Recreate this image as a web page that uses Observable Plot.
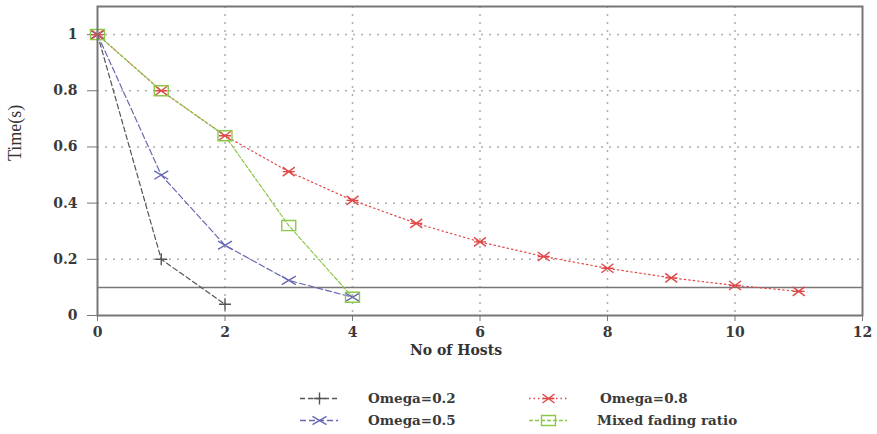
<!DOCTYPE html>
<html>
<head>
<meta charset="utf-8">
<script src="https://cdn.jsdelivr.net/npm/d3@7"></script>
<script src="https://cdn.jsdelivr.net/npm/@observablehq/plot@0.6"></script>
<style>
  body { margin: 0; background: #fff; }
  #wrap { position: relative; width: 877px; height: 434px; font-family: "DejaVu Serif", serif; }
  .sw { position: absolute; }
  .lt { position: absolute; font-weight: bold; font-size: 13.5px; color: #3a3a3a; line-height: 20px; white-space: nowrap; }
</style>
</head>
<body>
<div id="wrap"></div>
<script>
// ---- data ----
const hosts02 = [0, 1, 2];
const omega02 = [1, 0.2, 0.04];
const hosts05 = [0, 1, 2, 3, 4];
const omega05 = [1, 0.5, 0.25, 0.125, 0.065];
const hosts08 = [0, 1, 2, 3, 4, 5, 6, 7, 8, 9, 10, 11];
const omega08 = [1, 0.8, 0.64, 0.512, 0.41, 0.328, 0.262, 0.21, 0.168, 0.134, 0.107, 0.086];
const hostsMixed = [0, 1, 2, 3, 4];
const mixed = [1, 0.8, 0.64, 0.32, 0.065];
const threshold = [0.1];
const xTicks = [0, 2, 4, 6, 8, 10, 12];
const yTicks = [0, 0.2, 0.4, 0.6, 0.8, 1];
const seriesNames = ["Omega=0.2", "Omega=0.5", "Omega=0.8", "Mixed fading ratio"];

// ---- symbols ----
const plusSym = {draw(c, s) { const r = Math.sqrt(s / Math.PI); c.moveTo(-r, 0); c.lineTo(r, 0); c.moveTo(0, -r); c.lineTo(0, r); }};
const timesSym = {draw(c, s) { const r = Math.sqrt(s / Math.PI), h = r * 0.6; c.moveTo(-r, -h); c.lineTo(r, h); c.moveTo(-r, h); c.lineTo(r, -h); }};
const asterSym = {draw(c, s) { const r = Math.sqrt(s / Math.PI), h = r * 0.75; c.moveTo(-r, -h); c.lineTo(r, h); c.moveTo(-r, h); c.lineTo(r, -h); c.moveTo(-r, 0); c.lineTo(r, 0); }};
const rectSym = {draw(c, s) { const r = Math.sqrt(s / Math.PI), h = r * 0.72; c.moveTo(-r, -h); c.lineTo(r, -h); c.lineTo(r, h); c.lineTo(-r, h); c.closePath(); }};

const series = [
  {name: seriesNames[0], x: hosts02, y: omega02, color: "#555555", dash: "5,3", sym: plusSym, r: 6},
  {name: seriesNames[1], x: hosts05, y: omega05, color: "#6868b4", dash: "6,3", sym: timesSym, r: 7},
  {name: seriesNames[2], x: hosts08, y: omega08, color: "#e04848", dash: "1.5,3", sym: asterSym, r: 6},
  {name: seriesNames[3], x: hostsMixed, y: mixed, color: "#8cc84a", dash: "4,2", sym: rectSym, r: 7}
];

const marks = [
  Plot.gridY(yTicks.slice(1), {stroke: "#999", strokeOpacity: 0.8, strokeDasharray: "2,6", strokeWidth: 1.5}),
  Plot.gridX(xTicks.slice(1, -1), {stroke: "#999", strokeOpacity: 0.8, strokeDasharray: "2,6", strokeWidth: 1.5}),
  Plot.ruleY(threshold, {stroke: "#777", strokeWidth: 1.5}),
  Plot.axisX(xTicks, {tickSize: 6, tickPadding: 6, label: null, stroke: "#777", tickFormat: d3.format("~g")}),
  Plot.axisY(yTicks, {tickSize: 10, tickPadding: 10, label: null, stroke: "#777", tickFormat: d3.format("~g")}),
  Plot.text(["Time(s)"], {frameAnchor: "left", rotate: -90, dx: -82, fontSize: 18, fontWeight: "normal", fill: "#333", fontFamily: "Liberation Serif"}),
  Plot.text(["No of Hosts"], {frameAnchor: "bottom", dx: -24, dy: 39, fontSize: 14, fontWeight: "bold", fill: "#333"})
];
for (const s of series) {
  const data = s.x.map((x, i) => ({x, y: s.y[i]}));
  marks.push(Plot.line(data, {x: "x", y: "y", stroke: s.color, strokeWidth: 1.2, strokeDasharray: s.dash}));
}
for (const s of series) {
  const data = s.x.map((x, i) => ({x, y: s.y[i]}));
  marks.push(Plot.dot(data, {x: "x", y: "y", r: s.r, symbol: s.sym, stroke: s.color, strokeWidth: 1.4, fill: "none"}));
}
marks.push(Plot.frame({stroke: "#777", strokeWidth: 2}));

const chart = Plot.plot({
  width: 877,
  height: 368,
  marginLeft: 97,
  marginRight: 15,
  marginTop: 6,
  marginBottom: 53,
  x: {domain: [0, 12]},
  y: {domain: [0, 1.1]},
  style: {fontFamily: "DejaVu Serif", fontSize: "14px", fontWeight: "bold", color: "#3a3a3a", background: "#fff"},
  marks
});
const wrap = document.getElementById("wrap");
wrap.appendChild(chart);

// ---- legend ----
const swPos = [[300, 398], [300, 420], [529, 398], [529, 420]];
const txPos = [[368, 398], [368, 420], [600, 398], [597, 420]];
series.forEach((s, i) => {
  const sw = Plot.plot({
    width: 38, height: 20, margin: 0,
    x: {domain: [0, 2], axis: null}, y: {domain: [0, 1], axis: null},
    marks: [
      Plot.ruleY([0.5], {stroke: s.color, strokeWidth: 1.3, strokeDasharray: s.dash}),
      Plot.dot([{x: 1, y: 0.5}], {x: "x", y: "y", r: s.r, symbol: s.sym, stroke: s.color, strokeWidth: 1.4, fill: "none"})
    ]
  });
  sw.classList.add("sw");
  sw.style.left = swPos[i][0] + "px";
  sw.style.top = (swPos[i][1] - 10) + "px";
  wrap.appendChild(sw);
  const t = document.createElement("div");
  t.className = "lt";
  t.textContent = s.name;
  t.style.left = txPos[i][0] + "px";
  t.style.top = (txPos[i][1] - 10) + "px";
  wrap.appendChild(t);
});
</script>
</body>
</html>
